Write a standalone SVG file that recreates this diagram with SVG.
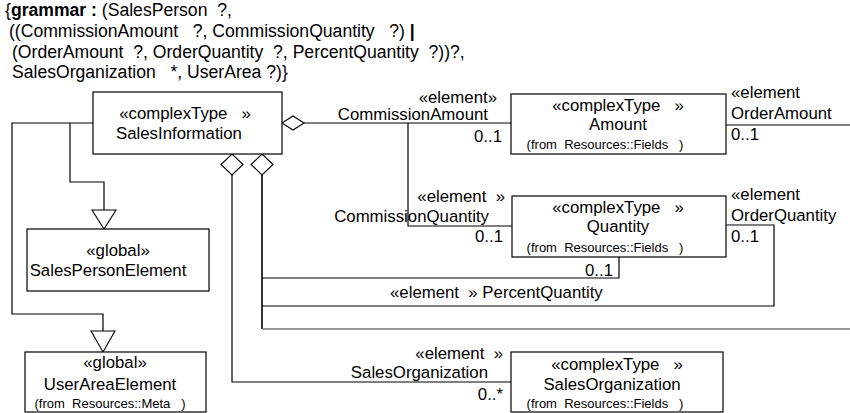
<svg xmlns="http://www.w3.org/2000/svg" width="850" height="413" viewBox="0 0 850 413">
  <style>
    text { font-family: "Liberation Sans", Arial, sans-serif; font-size: 16.8px; fill: #000; white-space: pre; }
    .g { font-size: 17.6px; }
    .b { font-weight: bold; }
    .sm { font-size: 13px; }
    .box { fill: #fff; stroke: #000; stroke-width: 1.2; }
    .ln { fill: none; stroke: #000; stroke-width: 1.2; }
    .grey { stroke: #777; stroke-width: 1.6; }
    .agg { fill: #fff; stroke: #000; stroke-width: 1.1; }
    .gen { fill: #fff; stroke: #000; stroke-width: 1.1; }
    .mid { text-anchor: middle; }
    .end { text-anchor: end; }
  </style>

  <!-- grammar note -->
  <g id="grammar">
    <text class="g" x="5" y="16" xml:space="preserve">{<tspan class="b">grammar :</tspan> (SalesPerson  ?,</text>
    <text class="g" x="9" y="37" xml:space="preserve">((CommissionAmount   ?, CommissionQuantity   ?) <tspan class="b">|</tspan></text>
    <text class="g" x="12" y="58" xml:space="preserve">(OrderAmount  ?, OrderQuantity  ?, PercentQuantity  ?))?,</text>
    <text class="g" x="12" y="78" xml:space="preserve">SalesOrganization   *, UserArea ?)}</text>
  </g>

  <!-- connectors -->
  <g id="connectors">
    <!-- aggregation: CommissionAmount / CommissionQuantity -->
    <polygon class="agg" points="282,123 293,116 304,123 293,130"/>
    <polyline class="ln" points="304,123 511,123"/>
    <polyline class="ln" points="408,123 408,226 512,226"/>
    <!-- OrderAmount -->
    <polyline class="ln" points="726,125 850,125"/>
    <!-- OrderQuantity -->
    <polyline class="ln" points="726,225 774,225 774,306 262,306"/>
    <!-- PercentQuantity -->
    <polyline class="ln" points="619,257 619,278 262,278"/>
    <!-- aggregation from bottom (right diamond) -->
    <polygon class="agg" points="262,154 273,164.5 262,175 251,164.5"/>
    <polyline class="ln" points="262,175 262,329" style="stroke-width:1.6"/>
    <polyline class="ln grey" points="262,329 850,329"/>
    <!-- SalesOrganization (left diamond) -->
    <polygon class="agg" points="232,154 243,164.5 232,175 221,164.5"/>
    <polyline class="ln" points="232,175 232,382 511,382"/>
    <!-- generalizations -->
    <polyline class="ln" points="93,123 12,123 12,314 103,314 103,331"/>
    <polygon class="gen" points="91,331 115,331 103,352"/>
    <polyline class="ln" points="70,123 70,182 104,182 104,210"/>
    <polygon class="gen" points="92,210 116,210 104,229"/>

    <!-- connector labels -->
    <text class="end" x="497" y="103">«element»</text>
    <text class="end" x="488" y="120">CommissionAmount</text>
    <text class="end" x="502" y="142">0..1</text>

    <text x="731" y="98">«element</text>
    <text x="731" y="119">OrderAmount</text>
    <text x="731" y="140">0..1</text>

    <text class="end" x="505" y="202" xml:space="preserve">«element  »</text>
    <text class="end" x="489" y="222">CommissionQuantity</text>
    <text class="end" x="503" y="242">0..1</text>

    <text x="731" y="200">«element</text>
    <text x="731" y="221">OrderQuantity</text>
    <text x="731" y="242">0..1</text>

    <text class="end" x="613" y="276">0..1</text>
    <text x="390" y="298" xml:space="preserve">«element  » PercentQuantity</text>

    <text class="end" x="503" y="359" xml:space="preserve">«element  »</text>
    <text class="end" x="488" y="378">SalesOrganization</text>
    <text class="end" x="503" y="400">0..*</text>
  </g>

  <!-- nodes -->
  <g id="SalesInformation">
    <rect class="box" x="93" y="92" width="189" height="62"/>
    <text class="mid" x="185" y="119" xml:space="preserve">«complexType   »</text>
    <text class="mid" x="179" y="139">SalesInformation</text>
  </g>

  <g id="Amount">
    <rect class="box" x="511" y="94" width="215" height="60"/>
    <text class="mid" x="618" y="111" xml:space="preserve">«complexType   »</text>
    <text class="mid" x="618" y="130">Amount</text>
    <text class="mid sm" x="605" y="149" xml:space="preserve">(from  Resources::Fields   )</text>
  </g>

  <g id="Quantity">
    <rect class="box" x="512" y="196" width="214" height="61"/>
    <text class="mid" x="618" y="213" xml:space="preserve">«complexType   »</text>
    <text class="mid" x="618" y="232">Quantity</text>
    <text class="mid sm" x="605" y="252" xml:space="preserve">(from  Resources::Fields   )</text>
  </g>

  <g id="SalesOrganizationType">
    <rect class="box" x="511" y="352" width="212" height="60"/>
    <text class="mid" x="617" y="370" xml:space="preserve">«complexType   »</text>
    <text class="mid" x="612" y="390">SalesOrganization</text>
    <text class="mid sm" x="605" y="408" xml:space="preserve">(from  Resources::Fields   )</text>
  </g>

  <g id="SalesPersonElement">
    <rect class="box" x="27" y="229" width="182" height="62"/>
    <text class="mid" x="118" y="256">«global»</text>
    <text class="mid" x="108" y="276">SalesPersonElement</text>
  </g>

  <g id="UserAreaElement">
    <rect class="box" x="25" y="352" width="181" height="60"/>
    <text class="mid" x="115" y="368">«global»</text>
    <text class="mid" x="110" y="390">UserAreaElement</text>
    <text class="mid sm" x="110" y="408" xml:space="preserve">(from  Resources::Meta   )</text>
  </g>
</svg>
